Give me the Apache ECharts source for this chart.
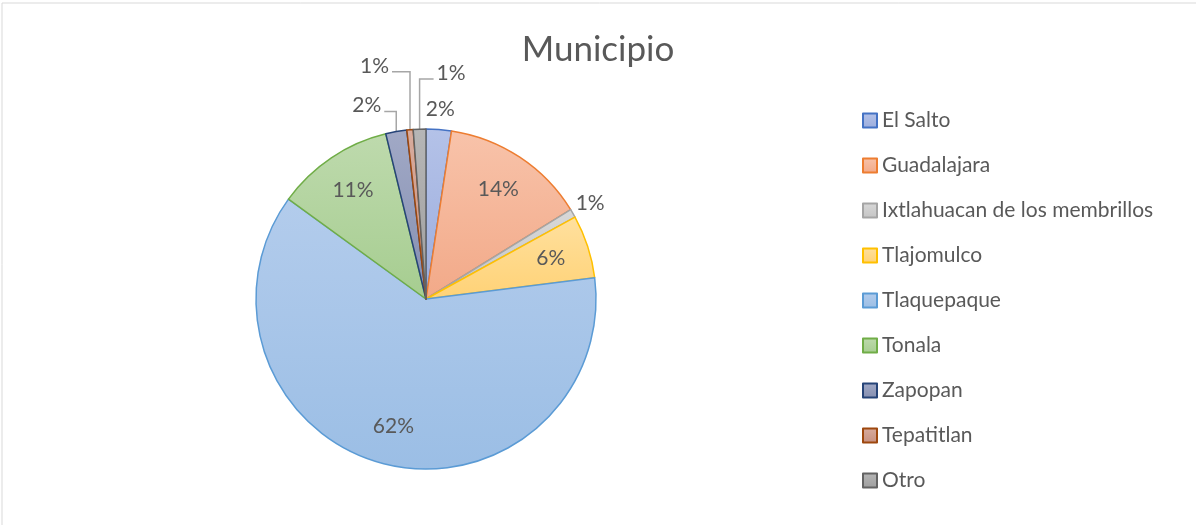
<!DOCTYPE html>
<html>
<head>
<meta charset="utf-8">
<script src="https://cdn.jsdelivr.net/npm/echarts@6/dist/echarts.min.js"></script>
<style>
  html, body { margin: 0; padding: 0; background: #fff; }
  #chart { width: 1196px; height: 525px; }
</style>
</head>
<body>
<div id="chart"></div>
<script>
// datos del gráfico
const categories = ['El Salto', 'Guadalajara', 'Ixtlahuacan de los membrillos', 'Tlajomulco', 'Tlaquepaque', 'Tonala', 'Zapopan', 'Tepatitlan', 'Otro']
const counts = [12, 69, 4, 30, 310, 56, 10, 3, 6]

// colores estilo Office (borde + degradado)
const lineColors = ['#4472C4', '#ED7D31', '#A5A5A5', '#FFC000', '#5B9BD5', '#70AD47', '#264478', '#9E480E', '#636363']
const fillTop = ['#b4c2e8', '#f8c3aa', '#d8d8d8', '#ffe09e', '#b3ccec', '#bedaad', '#a1a9c6', '#d9ac9d', '#b6b6b6']
const fillBottom = ['#9caddd', '#f2a988', '#c5c5c5', '#ffd276', '#9bbee5', '#a6cd90', '#858fb1', '#c69080', '#9e9e9e']
// guias de etiqueta: [subida, horizontal]
const leaderLegs = { Zapopan: [20, -12], Tepatitlan: [58, -18], Otro: [50, 14] }

const total = counts.reduce((a, b) => a + b, 0)
const isInside = counts.map(v => v / total >= 0.05)
const center = [426, 299]
const radius = 170

// angulo medio de cada sector (desde arriba, sentido horario)
const midAngles = []
let acc = 0
counts.forEach(v => {
  midAngles.push((acc + v / 2) / total * Math.PI * 2)
  acc += v
})

const chart = echarts.init(document.getElementById('chart'))

const seriesData = categories.map((name, i) => ({
  name: name,
  value: counts[i],
  itemStyle: {
    color: new echarts.graphic.LinearGradient(0, 0, 0, 1, [
      { offset: 0, color: fillTop[i] },
      { offset: 1, color: fillBottom[i] }
    ]),
    borderColor: lineColors[i],
    borderWidth: 1.5
  },
  label: {
    position: isInside[i] ? 'inside' : 'outside'
  },
  labelLine: {
    show: !!leaderLegs[name],
    length: 10,
    length2: 10
  }
}))

chart.setOption({
  animation: false,
  title: {
    text: 'Municipio',
    left: 'center',
    top: 27,
    textStyle: {
      fontFamily: 'Lato',
      fontSize: 35,
      fontWeight: 'normal',
      color: '#595959'
    }
  },
  legend: {
    orient: 'vertical',
    left: 857,
    top: 105,
    icon: 'rect',
    itemWidth: 14,
    itemHeight: 14,
    itemGap: 24,
    textStyle: {
      fontFamily: 'Lato',
      fontSize: 21,
      lineHeight: 20,
      color: '#595959'
    },
    data: categories
  },
  graphic: [{
    type: 'rect',
    shape: { x: 2, y: 3, width: 1300, height: 600 },
    style: { fill: 'none', stroke: '#d9d9d9', lineWidth: 1 },
    silent: true
  }],
  series: [{
    type: 'pie',
    center: center,
    radius: radius,
    startAngle: 90,
    clockwise: true,
    avoidLabelOverlap: false,
    label: {
      formatter: p => Math.round(p.value / total * 100) + '%',
      fontFamily: 'Lato',
      fontSize: 21,
      color: '#595959'
    },
    labelLine: {
      lineStyle: { color: '#a6a6a6', width: 1.5 }
    },
    labelLayout: function (p) {
      const i = p.dataIndex
      if (isInside[i]) {
        const lx = p.labelRect.x + p.labelRect.width / 2
        const ly = p.labelRect.y + p.labelRect.height / 2
        return { dx: (lx - center[0]) * 0.49, dy: (ly - center[1]) * 0.49 }
      }
      const sx = Math.sin(midAngles[i]), sy = -Math.cos(midAngles[i])
      const x0 = center[0] + radius * sx
      const y0 = center[1] + radius * sy
      const leg = leaderLegs[categories[i]]
      if (leg) {
        const by = y0 - leg[0]
        const ex = x0 + leg[1]
        return {
          x: ex + (leg[1] > 0 ? 3 : -3),
          y: by - 6,
          align: leg[1] > 0 ? 'left' : 'right',
          verticalAlign: 'middle',
          labelLinePoints: [[x0, y0], [x0, by], [ex, by]]
        }
      }
      return {
        x: x0 + sx * 20,
        y: y0 + sy * 20,
        align: 'center',
        verticalAlign: 'middle'
      }
    },
    emphasis: { disabled: true },
    data: seriesData
  }]
})
</script>
</body>
</html>
